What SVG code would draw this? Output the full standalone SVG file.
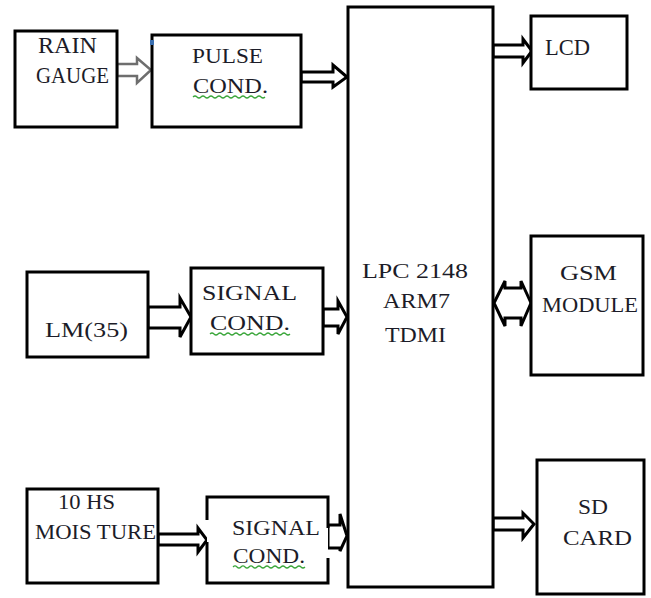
<svg xmlns="http://www.w3.org/2000/svg" width="651" height="598" viewBox="0 0 651 598">
<style>
.box{fill:#fff;stroke:#000;stroke-width:3}
text{font-family:"Liberation Serif","DejaVu Serif","Times New Roman",serif;fill:#1c1c28}
.arr{fill:#fff;stroke:#000;stroke-width:3;stroke-linejoin:miter}
.garr{fill:#fff;stroke:#6e6e6e;stroke-width:2.5}
.sq{fill:none;stroke:#3aa63a;stroke-width:1.2}
</style>
<rect width="651" height="598" fill="#fff"/>
<g id="connectors">
<polygon class="garr" points="117,64 137,64 137,58 151,70 137,83 137,76 117,76"/>
<polygon class="arr" points="301,72 333,72 333,65 347,77 333,87 333,82 301,82"/>
<polygon class="arr" points="148,307 180,307 180,298 191,317 180,337 180,328 148,328"/>
<polygon class="arr" points="323,309 338,309 338,301 347,317 338,334 338,326 323,326"/>
<polygon class="arr" points="158,534 198,534 198,528 207,540 198,552 198,545 158,545"/>
<polygon class="arr" points="328,525 340,525 340,514 347,536 340,551 340,548 328,548"/>
<polygon class="arr" points="493,45 523,45 523,39 532,51 523,63 523,57 493,57"/>
<polygon class="arr" points="494,303 505,281 505,288 521,288 521,281 531,303 521,326 521,318 505,318 505,326"/>
<polygon class="arr" points="493,518 523,518 523,513 534,524 523,538 523,530 493,530"/>
</g>
<g id="rain-gauge">
<rect class="box" x="15" y="31" width="102" height="96"/>
<text x="38" y="53" font-size="24" textLength="59" lengthAdjust="spacingAndGlyphs">RAIN</text>
<text x="36" y="83" font-size="24" textLength="73" lengthAdjust="spacingAndGlyphs">GAUGE</text>
</g>
<g id="pulse-cond">
<rect class="box" x="152" y="35" width="149" height="92"/>
<rect x="150" y="40" width="4" height="5" fill="#3a6fb0"/>
<text x="192" y="63" font-size="22" textLength="71" lengthAdjust="spacingAndGlyphs">PULSE</text>
<text x="193" y="93" font-size="22" textLength="75" lengthAdjust="spacingAndGlyphs">COND.</text>
<path class="sq" d="M193,97 q2,-2 4,0 t4,0 t4,0 t4,0 t4,0 t4,0 t4,0 t4,0 t4,0 t4,0 t4,0 t4,0 t4,0 t4,0 t4,0 t4,0 t4,0 t4,0"/>
</g>
<g id="lm35">
<rect class="box" x="27" y="272" width="121" height="85"/>
<text x="45" y="337" font-size="22" textLength="83" lengthAdjust="spacingAndGlyphs">LM(35)</text>
</g>
<g id="signal-cond-1">
<rect class="box" x="191" y="268" width="132" height="86"/>
<text x="202" y="300" font-size="22" textLength="95" lengthAdjust="spacingAndGlyphs">SIGNAL</text>
<text x="210" y="330" font-size="22" textLength="80" lengthAdjust="spacingAndGlyphs">COND.</text>
<path class="sq" d="M210,334 q2,-2 4,0 t4,0 t4,0 t4,0 t4,0 t4,0 t4,0 t4,0 t4,0 t4,0 t4,0 t4,0 t4,0 t4,0 t4,0 t4,0 t4,0 t4,0 t4,0 t4,0"/>
</g>
<g id="moisture">
<rect class="box" x="27" y="489" width="131" height="94"/>
<text x="58" y="509" font-size="21" textLength="57" lengthAdjust="spacingAndGlyphs">10 HS</text>
<text x="35" y="539" font-size="21" textLength="121" lengthAdjust="spacingAndGlyphs">MOIS TURE</text>
</g>
<g id="signal-cond-2">
<path fill="#fff" stroke="none" d="M207,497 H328 V583 H207 Z"/>
<path fill="none" stroke="#000" stroke-width="3" d="M207,520 V497 H328 V528 M328,558 V583 H207 V542"/>
<text x="232" y="535" font-size="21" textLength="88" lengthAdjust="spacingAndGlyphs">SIGNAL</text>
<text x="233" y="563" font-size="21" textLength="72" lengthAdjust="spacingAndGlyphs">COND.</text>
<path class="sq" d="M233,567 q2,-2 4,0 t4,0 t4,0 t4,0 t4,0 t4,0 t4,0 t4,0 t4,0 t4,0 t4,0 t4,0 t4,0 t4,0 t4,0 t4,0 t4,0 t4,0"/>
</g>
<g id="lpc2148">
<rect class="box" x="348" y="7" width="145" height="580"/>
<text x="362" y="278" font-size="20" textLength="106" lengthAdjust="spacingAndGlyphs">LPC 2148</text>
<text x="383" y="308" font-size="20" textLength="67" lengthAdjust="spacingAndGlyphs">ARM7</text>
<text x="385" y="342" font-size="20" textLength="61" lengthAdjust="spacingAndGlyphs">TDMI</text>
</g>
<g id="lcd">
<rect class="box" x="531" y="16" width="96" height="73"/>
<text x="545" y="55" font-size="23" textLength="45" lengthAdjust="spacingAndGlyphs">LCD</text>
</g>
<g id="gsm">
<rect class="box" x="531" y="236" width="112" height="139"/>
<text x="560" y="280" font-size="20" textLength="57" lengthAdjust="spacingAndGlyphs">GSM</text>
<text x="542" y="312" font-size="20" textLength="96" lengthAdjust="spacingAndGlyphs">MODULE</text>
</g>
<g id="sd-card">
<rect class="box" x="537" y="460" width="107" height="134"/>
<text x="578" y="514" font-size="21" textLength="30" lengthAdjust="spacingAndGlyphs">SD</text>
<text x="563" y="545" font-size="21" textLength="69" lengthAdjust="spacingAndGlyphs">CARD</text>
</g>
</svg>
